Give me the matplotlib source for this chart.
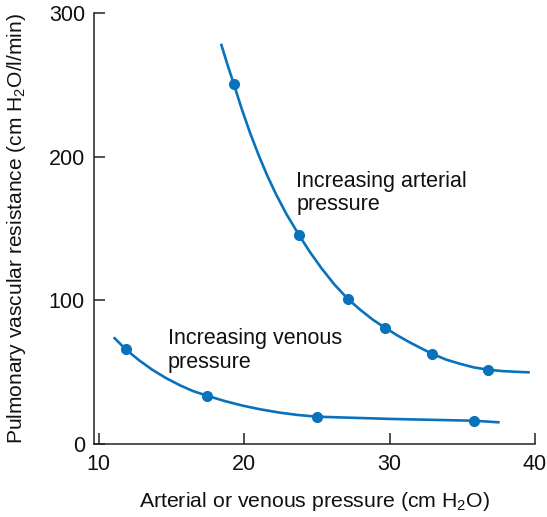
import matplotlib as mplt
mplt.use('Agg')
import matplotlib.pyplot as plt
from matplotlib import rc

rc('font', **{'family': 'Liberation Sans', 'size': 15})
rc('mathtext', **{'fontset': 'custom', 'rm': 'Liberation Sans',
                  'it': 'Liberation Sans:italic', 'bf': 'Liberation Sans:bold'})

line_color = "#0872bc"

art_curve_x = [18.44, 18.85, 19.29, 19.8, 20.4, 21.0, 21.6, 22.2, 22.9, 23.77,
               24.5, 25.3, 26.2, 27.12, 28.0, 28.85, 29.68, 30.5, 31.3, 32.1,
               32.9, 33.9, 34.85, 35.8, 36.79, 37.7, 38.6, 39.55]
art_curve_y = [277.7, 264.2, 250.6, 234.3, 216.8, 201.0, 186.6, 173.7, 160.2, 145.5,
               134.0, 122.6, 111.1, 101.1, 93.3, 86.5, 81.0, 75.8, 71.2, 67.0,
               62.9, 58.7, 55.8, 53.3, 51.7, 50.8, 50.3, 49.9]
art_pts_x = [19.29, 23.77, 27.12, 29.68, 32.90, 36.79]
art_pts_y = [250.6, 145.5, 101.1, 81.0, 62.9, 51.7]

ven_curve_x = [11.10, 11.86, 12.8, 13.7, 14.66, 15.6, 16.5, 17.45, 18.7, 19.9,
               21.08, 22.4, 23.7, 25.00, 27.6, 30.25, 33.0, 35.81, 37.48]
ven_curve_y = [73.6, 65.9, 58.1, 51.6, 45.7, 40.8, 36.8, 33.6, 29.8, 26.7,
               24.2, 21.9, 20.2, 19.0, 18.2, 17.4, 16.8, 16.2, 15.1]
ven_pts_x = [11.86, 17.45, 25.00, 35.81]
ven_pts_y = [65.9, 33.6, 19.0, 16.2]

xticks = [10, 20, 30, 40]
yticks = [0, 100, 200, 300]

fig = plt.figure(figsize=(5.47, 5.17), dpi=100)
ax = fig.add_axes([0.1724, 0.1412, 0.8057, 0.8337])

ax.plot(art_curve_x, art_curve_y, color=line_color, lw=1.9, solid_joinstyle='round')
ax.plot(art_pts_x, art_pts_y, 'o', color=line_color, ms=7)
ax.plot(ven_curve_x, ven_curve_y, color=line_color, lw=1.9, solid_joinstyle='round')
ax.plot(ven_pts_x, ven_pts_y, 'o', color=line_color, ms=7)

ax.text(23.6, 190, "Increasing arterial\npressure", va='top', ha='left',
        fontsize=15.5, linespacing=1.15, color='#111111')
ax.text(14.77, 80.5, "Increasing venous\npressure", va='top', ha='left',
        fontsize=15.5, linespacing=1.15, color='#111111')

ax.set_xlim(9.7, 40)
ax.set_ylim(0, 300)
ax.set_xticks(xticks)
ax.set_yticks(yticks)

for s in ['top', 'right']:
    ax.spines[s].set_visible(False)
for s in ['left', 'bottom']:
    ax.spines[s].set_linewidth(1.1)
    ax.spines[s].set_color('#222222')

ax.tick_params(direction='in', length=8, width=1.1, color='#222222',
               labelsize=15.5, labelcolor='#111111')
ax.tick_params(axis='y', pad=6.7)
ax.tick_params(axis='x', pad=7.2)

ax.set_xlabel("Arterial or venous pressure (cm H$_2$O)", fontsize=15.3,
              labelpad=11, color='#111111')
ax.set_ylabel("Pulmonary vascular resistance (cm H$_2$O/l/min)", fontsize=15.1,
              labelpad=15, color='#111111')

fig.savefig("out.png", dpi=100)
